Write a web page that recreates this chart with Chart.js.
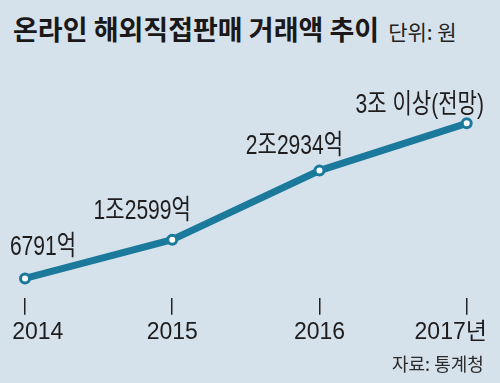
<!DOCTYPE html>
<html>
<head>
<meta charset="utf-8">
<script src="https://cdn.jsdelivr.net/npm/chart.js@4/dist/chart.umd.min.js"></script>
<style>
  html, body { margin: 0; padding: 0; width: 500px; height: 383px; overflow: hidden; background: #d6e2eb; }
  #wrap { position: relative; width: 500px; height: 383px; overflow: hidden; }
  #title { position: absolute; left: 13px; top: 14px; font-family: "Noto Sans CJK KR", sans-serif; font-weight: 700; font-size: 27px; line-height: 30px; color: #1a1818; white-space: nowrap; }
  #unit { font-weight: 400; font-size: 21px; color: #222; margin-left: 9px; }
  #source { position: absolute; left: 392px; top: 352px; font-family: "Noto Sans CJK KR", sans-serif; font-size: 18px; line-height: 22px; color: #2a2a2a; white-space: nowrap; }
  #c { position: absolute; left: -20px; top: 0; }
</style>
</head>
<body>
<div id="wrap">
  <div id="title">온라인 해외직접판매 거래액 추이<span id="unit">단위: 원</span></div>
  <canvas id="c" width="560" height="383"></canvas>
  <div id="source">자료: 통계청</div>
</div>
<script>
// data (unit: 억원)
const years = ['2014', '2015', '2016', '2017년'];
const values = [6791, 12599, 22934, 30000];
const valueLabels = ['6791억', '1조2599억', '2조2934억', '3조 이상(전망)'];

const LINE = '#1b7a9c';
const TEXT = '#1e1c1c';
const NUM_FONT = '"Liberation Sans", Arial, "Noto Sans CJK KR", sans-serif';

// label centre / baseline relative to its point
const labelOffsets = [[18, -23], [-30, -21], [-25, -17], [-47, -10]];
// shift first and last axis labels inward with padding spaces
const tickPad = ['    ', '', '', ''];
const tickPadEnd = ['', '', '', '     '];

const valueLabelPlugin = {
  id: 'valueLabels',
  afterDatasetsDraw(chart) {
    const ctx = chart.ctx;
    const meta = chart.getDatasetMeta(0);
    meta.data.forEach((pt, i) => {
      const o = labelOffsets[i];
      ctx.save();
      ctx.font = '27px ' + NUM_FONT;
      ctx.fillStyle = TEXT;
      ctx.textAlign = 'center';
      ctx.textBaseline = 'alphabetic';
      ctx.translate(pt.x + o[0], pt.y + o[1]);
      ctx.scale(0.78, 1); // condensed look
      ctx.fillText(valueLabels[i], 0, 0);
      ctx.restore();
    });
  }
};

new Chart(document.getElementById('c'), {
  type: 'line',
  data: {
    labels: years,
    datasets: [{
      data: values,
      borderColor: LINE,
      borderWidth: 7,
      pointRadius: 4.5,
      pointHoverRadius: 4.5,
      pointBorderWidth: 3,
      pointBackgroundColor: '#ffffff',
      pointBorderColor: LINE,
      tension: 0,
      clip: false
    }]
  },
  options: {
    responsive: false,
    animation: false,
    events: [],
    layout: { padding: { left: 45, right: 73.3, top: 96.6, bottom: 32.2 } },
    plugins: { legend: { display: false }, tooltip: { enabled: false }, title: { display: false } },
    scales: {
      x: {
        offset: false,
        border: { display: false },
        grid: { drawOnChartArea: false, drawTicks: true, tickLength: 17, color: '#222', lineWidth: 1.5, offset: false },
        ticks: {
          autoSkip: false, maxRotation: 0, padding: 4.2, color: TEXT,
          font: { family: NUM_FONT, size: 23 },
          callback: function (v, i) { return tickPad[i] + years[i] + tickPadEnd[i]; }
        }
      },
      y: { display: false, min: 3900, max: 34000 }
    }
  },
  plugins: [valueLabelPlugin]
});
</script>
</body>
</html>
